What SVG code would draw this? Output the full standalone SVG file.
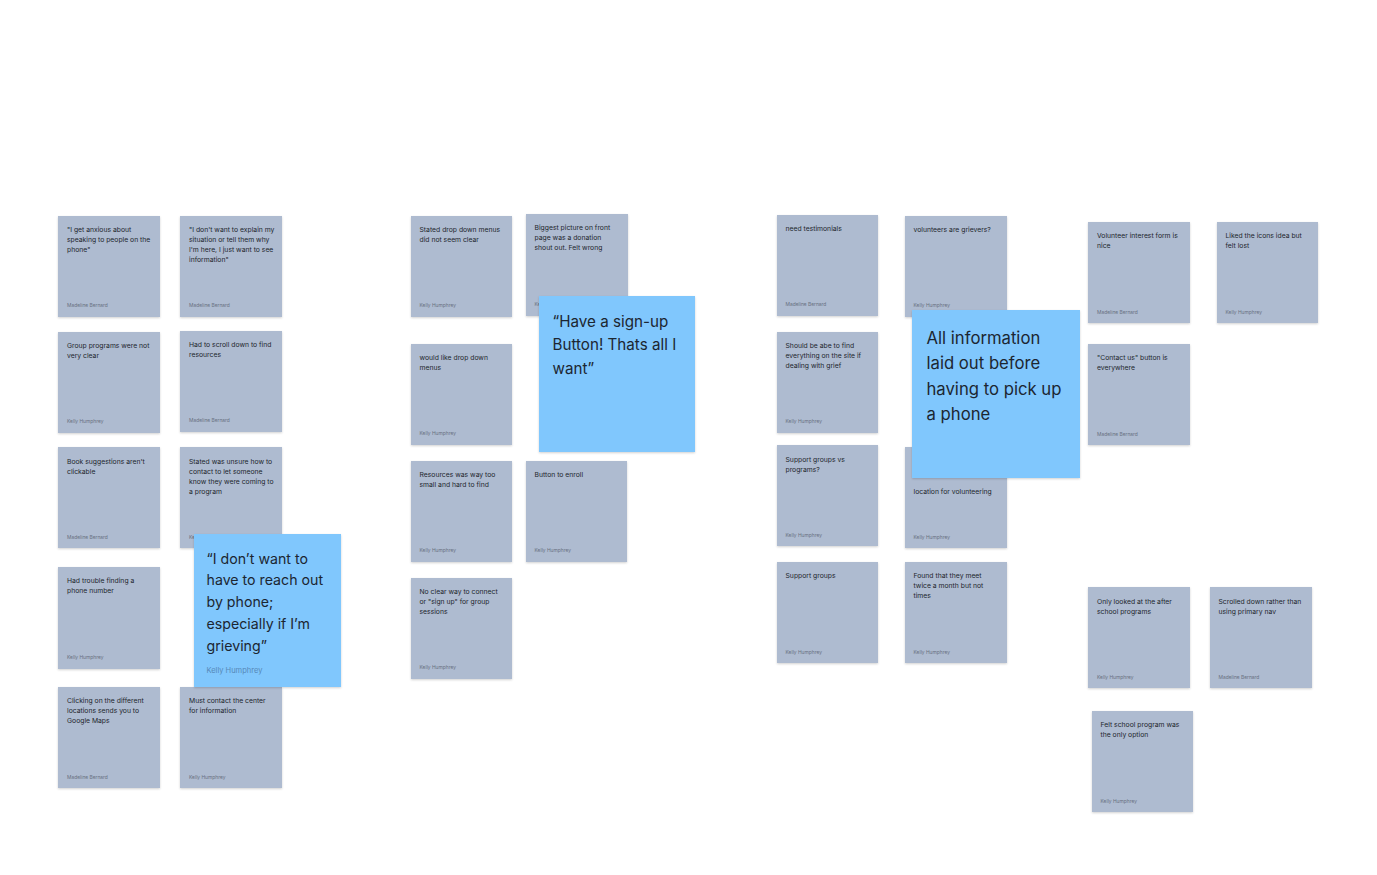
<svg xmlns="http://www.w3.org/2000/svg" width="1377" height="875" viewBox="0 0 1377 875">
<defs>
<filter id="sh" x="-10%" y="-10%" width="120%" height="125%">
<feDropShadow dx="0" dy="1" stdDeviation="1" flood-color="#000" flood-opacity="0.18"/>
</filter>
<style>
.s{fill:#aebbd0;filter:url(#sh)}
.b{fill:#80c7fd;filter:url(#sh)}
.t{font-family:Inter,"Liberation Sans",sans-serif;font-size:6.8px;fill:#22262d}
.a{font-family:Inter,"Liberation Sans",sans-serif;font-size:4.9px;fill:#687080}
.bt{font-family:Inter,"Liberation Sans",sans-serif;fill:#1c2631}
.ba{font-family:Inter,"Liberation Sans",sans-serif;font-size:7.5px;fill:#5688b8}
</style>
</defs>
<rect width="1377" height="875" fill="#ffffff"/>
<g id="connectors"/>

<g id="n1"><rect class="s" x="58" y="216" width="102" height="101"/>
<text class="t" x="67" y="231.5">"I get anxious about<tspan x="67" dy="10">speaking to people on the</tspan><tspan x="67" dy="10">phone"</tspan></text>
<text class="a" x="67" y="307">Madeline Bernard</text></g>

<g id="n2"><rect class="s" x="180" y="216" width="102" height="101"/>
<text class="t" x="189" y="231.5">"I don't want to explain my<tspan x="189" dy="10">situation or tell them why</tspan><tspan x="189" dy="10">I'm here, I just want to see</tspan><tspan x="189" dy="10">information"</tspan></text>
<text class="a" x="189" y="307">Madeline Bernard</text></g>

<g id="n3"><rect class="s" x="58" y="332" width="102" height="101"/>
<text class="t" x="67" y="347.5">Group programs were not<tspan x="67" dy="10">very clear</tspan></text>
<text class="a" x="67" y="423">Kelly Humphrey</text></g>

<g id="n4"><rect class="s" x="180" y="331" width="102" height="101"/>
<text class="t" x="189" y="346.5">Had to scroll down to find<tspan x="189" dy="10">resources</tspan></text>
<text class="a" x="189" y="422">Madeline Bernard</text></g>

<g id="n5"><rect class="s" x="58" y="447" width="102" height="101"/>
<text class="t" x="67" y="463.5">Book suggestions aren't<tspan x="67" dy="10">clickable</tspan></text>
<text class="a" x="67" y="539">Madeline Bernard</text></g>

<g id="n6"><rect class="s" x="180" y="447" width="102" height="101"/>
<text class="t" x="189" y="463.5">Stated was unsure how to<tspan x="189" dy="10">contact to let someone</tspan><tspan x="189" dy="10">know they were coming to</tspan><tspan x="189" dy="10">a program</tspan></text>
<text class="a" x="189" y="539">Kelly Humphrey</text></g>

<g id="n7"><rect class="s" x="58" y="567" width="102" height="102"/>
<text class="t" x="67" y="583">Had trouble finding a<tspan x="67" dy="10">phone number</tspan></text>
<text class="a" x="67" y="659">Kelly Humphrey</text></g>

<g id="n8"><rect class="s" x="58" y="687" width="102" height="101"/>
<text class="t" x="67" y="703">Clicking on the different<tspan x="67" dy="10">locations sends you to</tspan><tspan x="67" dy="10">Google Maps</tspan></text>
<text class="a" x="67" y="779">Madeline Bernard</text></g>

<g id="n9"><rect class="s" x="180" y="687" width="102" height="101"/>
<text class="t" x="189" y="703">Must contact the center<tspan x="189" dy="10">for information</tspan></text>
<text class="a" x="189" y="779">Kelly Humphrey</text></g>

<g id="q1"><rect class="b" x="194" y="534" width="147" height="153"/>
<text class="bt" font-size="14.2" x="206.5" y="563.5">“I don’t want to<tspan x="206.5" dy="21.8">have to reach out</tspan><tspan x="206.5" dy="21.8">by phone;</tspan><tspan x="206.5" dy="21.8">especially if I’m</tspan><tspan x="206.5" dy="21.8">grieving”</tspan></text>
<text class="ba" x="206.5" y="673">Kelly Humphrey</text></g>

<g id="n10"><rect class="s" x="411" y="216" width="101" height="101"/>
<text class="t" x="419.5" y="231.5">Stated drop down menus<tspan x="419.5" dy="10">did not seem clear</tspan></text>
<text class="a" x="419.5" y="307">Kelly Humphrey</text></g>

<g id="n11"><rect class="s" x="526" y="214" width="102" height="102"/>
<text class="t" x="534.5" y="230">Biggest picture on front<tspan x="534.5" dy="10">page was a donation</tspan><tspan x="534.5" dy="10">shout out. Felt wrong</tspan></text>
<text class="a" x="534.5" y="306">Kelly Humphrey</text></g>

<g id="n12"><rect class="s" x="411" y="344" width="101" height="101"/>
<text class="t" x="419.5" y="359.5">would like drop down<tspan x="419.5" dy="10">menus</tspan></text>
<text class="a" x="419.5" y="435">Kelly Humphrey</text></g>

<g id="n13"><rect class="s" x="411" y="461" width="101" height="101"/>
<text class="t" x="419.5" y="477">Resources was way too<tspan x="419.5" dy="10">small and hard to find</tspan></text>
<text class="a" x="419.5" y="552">Kelly Humphrey</text></g>

<g id="n14"><rect class="s" x="526" y="461" width="101" height="101"/>
<text class="t" x="534.5" y="477">Button to enroll</text>
<text class="a" x="534.5" y="552">Kelly Humphrey</text></g>

<g id="n15"><rect class="s" x="411" y="578" width="101" height="101"/>
<text class="t" x="419.5" y="593.5">No clear way to connect<tspan x="419.5" dy="10">or "sign up" for group</tspan><tspan x="419.5" dy="10">sessions</tspan></text>
<text class="a" x="419.5" y="669">Kelly Humphrey</text></g>

<g id="q2"><rect class="b" x="539" y="296" width="156" height="156"/>
<text class="bt" font-size="15.2" x="552.5" y="327">“Have a sign-up<tspan x="552.5" dy="23.3">Button! Thats all I</tspan><tspan x="552.5" dy="23.3">want”</tspan></text></g>

<g id="n16"><rect class="s" x="777" y="215" width="101" height="101"/>
<text class="t" x="785.5" y="230.5">need testimonials</text>
<text class="a" x="785.5" y="306">Madeline Bernard</text></g>

<g id="n17"><rect class="s" x="905" y="216" width="102" height="101"/>
<text class="t" x="913.5" y="231.5">volunteers are grievers?</text>
<text class="a" x="913.5" y="307">Kelly Humphrey</text></g>

<g id="n18"><rect class="s" x="777" y="332" width="101" height="101"/>
<text class="t" x="785.5" y="347.5">Should be abe to find<tspan x="785.5" dy="10">everything on the site if</tspan><tspan x="785.5" dy="10">dealing with grief</tspan></text>
<text class="a" x="785.5" y="423">Kelly Humphrey</text></g>

<g id="n19"><rect class="s" x="777" y="445" width="101" height="101"/>
<text class="t" x="785.5" y="461.5">Support groups vs<tspan x="785.5" dy="10">programs?</tspan></text>
<text class="a" x="785.5" y="537">Kelly Humphrey</text></g>

<g id="n20"><rect class="s" x="905" y="447" width="102" height="101"/>
<text class="t" x="913.5" y="494">location for volunteering</text>
<text class="a" x="913.5" y="539">Kelly Humphrey</text></g>

<g id="n21"><rect class="s" x="777" y="562" width="101" height="101"/>
<text class="t" x="785.5" y="578">Support groups</text>
<text class="a" x="785.5" y="653.5">Kelly Humphrey</text></g>

<g id="n22"><rect class="s" x="905" y="562" width="102" height="101"/>
<text class="t" x="913.5" y="578">Found that they meet<tspan x="913.5" dy="10">twice a month but not</tspan><tspan x="913.5" dy="10">times</tspan></text>
<text class="a" x="913.5" y="653.5">Kelly Humphrey</text></g>

<g id="q3"><rect class="b" x="912" y="310" width="168" height="168"/>
<text class="bt" font-size="16.7" x="926.5" y="344">All information<tspan x="926.5" dy="25.3">laid out before</tspan><tspan x="926.5" dy="25.3">having to pick up</tspan><tspan x="926.5" dy="25.3">a phone</tspan></text></g>

<g id="n23"><rect class="s" x="1088" y="222" width="102" height="101"/>
<text class="t" x="1097" y="238">Volunteer interest form is<tspan x="1097" dy="10">nice</tspan></text>
<text class="a" x="1097" y="313.5">Madeline Bernard</text></g>

<g id="n24"><rect class="s" x="1217" y="222" width="101" height="101"/>
<text class="t" x="1225.5" y="238">Liked the icons idea but<tspan x="1225.5" dy="10">felt lost</tspan></text>
<text class="a" x="1225.5" y="313.5">Kelly Humphrey</text></g>

<g id="n25"><rect class="s" x="1088" y="344" width="102" height="101"/>
<text class="t" x="1097" y="360">"Contact us" button is<tspan x="1097" dy="10">everywhere</tspan></text>
<text class="a" x="1097" y="435.5">Madeline Bernard</text></g>

<g id="n26"><rect class="s" x="1088" y="587" width="102" height="101"/>
<text class="t" x="1097" y="603.5">Only looked at the after<tspan x="1097" dy="10">school programs</tspan></text>
<text class="a" x="1097" y="679">Kelly Humphrey</text></g>

<g id="n27"><rect class="s" x="1210" y="587" width="102" height="101"/>
<text class="t" x="1218.5" y="603.5">Scrolled down rather than<tspan x="1218.5" dy="10">using primary nav</tspan></text>
<text class="a" x="1218.5" y="679">Madeline Bernard</text></g>

<g id="n28"><rect class="s" x="1092" y="711" width="101" height="101"/>
<text class="t" x="1100.5" y="727">Felt school program was<tspan x="1100.5" dy="10">the only option</tspan></text>
<text class="a" x="1100.5" y="802.5">Kelly Humphrey</text></g>
</svg>
